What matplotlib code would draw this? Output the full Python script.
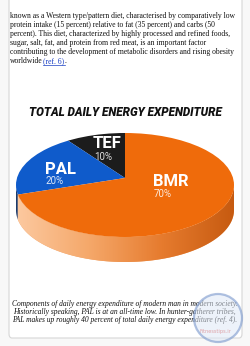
import numpy as np
import matplotlib
matplotlib.use('Agg')
import matplotlib.pyplot as plt
from matplotlib.patches import FancyBboxPatch, Polygon, Ellipse
from matplotlib.colors import LinearSegmentedColormap

# pie data: total daily energy expenditure
labels = ['TEF', 'PAL', 'BMR']
shares = [10, 20, 70]
pct_labels = ['10%', '20%', '70%']

top_colors = ['#1c1c1c', '#0f5bcb', '#ef6b0b']
side_colors = ['#111111', '#1b3a6b', '#f2a467']

paragraph = [
    'known as a Western type/pattern diet, characterised by comparatively low',
    'protein intake (15 percent) relative to fat (35 percent) and carbs (50',
    'percent). This diet, characterized by highly processed and refined foods,',
    'sugar, salt, fat, and protein from red meat, is an important factor',
    'contributing to the development of metabolic disorders and rising obesity',
    'worldwide',
]
caption = [
    'Components of daily energy expenditure of modern man in modern society.',
    'Historically speaking, PAL is at an all-time low. In hunter-gatherer tribes,',
    'PAL makes up roughly 40 percent of total daily energy expenditure (ref. 4).',
]

W, H = 250, 346
fig = plt.figure(figsize=(2.5, 3.46), dpi=100)
fig.patch.set_facecolor('#f8f8f8')


def fx(px):
    return px / W


def fy(py):
    return 1 - py / H


# white card behind everything
card = FancyBboxPatch((fx(9), fy(338)), fx(242) - fx(9), fy(-6) - fy(338),
                      boxstyle='round,pad=0,rounding_size=0.012',
                      transform=fig.transFigure, facecolor='white',
                      edgecolor='#d6d6d6', lw=0.8, zorder=-5)
fig.patches.append(card)

# paragraph at the top
serif = 'Liberation Serif'
fs = 5.5
for i, line in enumerate(paragraph):
    t = fig.text(fx(10), fy(15.5 + i * 9.05), line, family=serif, size=fs,
                 va='center', ha='left', color='#111111')
renderer = fig.canvas.get_renderer()
bb = t.get_window_extent(renderer)
x_link = bb.x1 / W + fx(0.8)
y_last = fy(15.5 + 5 * 9.05)
link = fig.text(x_link, y_last, '(ref. 6)', family=serif, size=fs,
                va='center', ha='left', color='#1a3fc4')
lb = link.get_window_extent(renderer)
fig.add_artist(plt.Line2D([lb.x0 / W, lb.x1 / W], [y_last - 4 / H, y_last - 4 / H],
                          transform=fig.transFigure, color='#1a3fc4', lw=0.5))
fig.text(lb.x1 / W, y_last, '.', family=serif, size=fs, va='center',
         ha='left', color='#111111')

# title
fig.text(fx(125), fy(112), 'TOTAL DAILY ENERGY EXPENDITURE', family='Roboto',
         weight='heavy', style='italic', size=8.4, ha='center', va='center',
         color='#111111')

# 3d-looking pie
depth = 25 / 52
apex_shift = 7 / 52
ax = fig.add_axes([fx(16), fy(263), fx(234) - fx(16), fy(133) - fy(263)])


def rim_angle(phi):
    # where a ray from the raised apex meets the rim, as an angle on the rim
    p = np.radians(phi)
    s = apex_shift
    t = -s * np.sin(p) + np.sqrt(s ** 2 * np.sin(p) ** 2 - s ** 2 + 1)
    ang = np.degrees(np.arctan2(s + t * np.sin(p), t * np.cos(p)))
    return ang % 360


bounds = np.cumsum([0] + shares) / sum(shares) * 360 + 90
rim = [rim_angle(b) for b in bounds]
for i in range(1, len(rim)):
    while rim[i] < rim[i - 1]:
        rim[i] += 360
grad_cmap = LinearSegmentedColormap.from_list(
    'side', ['#fcc9a0', '#f5a86a', '#e67b2e', '#c65a10'])
for i in range(len(shares)):
    lo = max(rim[i], 180)
    hi = min(rim[i + 1], 360)
    if hi <= lo:
        continue
    th = np.radians(np.linspace(lo, hi, 120))
    xs = np.concatenate([np.cos(th), np.cos(th[::-1])])
    ys = np.concatenate([np.sin(th), np.sin(th[::-1]) - depth])
    side = Polygon(np.column_stack([xs, ys]), closed=True,
                   facecolor=side_colors[i], lw=0)
    ax.add_patch(side)
    if labels[i] == 'BMR':
        grad = np.linspace(0, 1, 256).reshape(1, -1)
        im = ax.imshow(grad, cmap=grad_cmap, extent=(-1, 1, -1.6, 0),
                       aspect='auto', zorder=1)
        im.set_clip_path(side)

# top face: wedges from a slightly raised apex, clipped to the ellipse
face = Ellipse((0, 0), 2, 2, facecolor='none', lw=0)
ax.add_patch(face)
wedges, _ = ax.pie(shares, colors=top_colors, startangle=90, counterclock=True,
                   radius=1.3, center=(0, apex_shift),
                   wedgeprops=dict(lw=0, zorder=2))
for w in wedges:
    w.set_clip_on(True)
    w.set_clip_path(face)
ax.set_aspect('auto')
ax.set_xlim(-1, 1)
ax.set_ylim(-1.5, 1.0)
ax.axis('off')

# slice labels
label_pos = [(93, 144, 157), (45, 169, 181), (153, 182, 194)]
for lab, pct, (x, y1, y2) in zip(labels, pct_labels, label_pos):
    fig.text(fx(x), fy(y1), lab, family='Roboto', weight='bold', size=12,
             color='white', ha='left', va='center')
    fig.text(fx(x + 1), fy(y2), pct, family='Roboto', size=7,
             color='white', alpha=0.85, ha='left', va='center')

# caption under the chart
for i, line in enumerate(caption):
    fig.text(fx(124.5), fy(304 + i * 8.2), line, family=serif, style='italic',
             size=5.45, ha='center', va='center', color='#111111')

# faint watermark
fig.patches.append(Ellipse((fx(218), fy(318)), 48 / W, 48 / H,
                           transform=fig.transFigure, facecolor='#dfe8f6',
                           edgecolor='#6f8fc8', lw=1.6, alpha=0.55, zorder=5))
fig.text(fx(215), fy(331), 'Fitnesstips.ir', family='DejaVu Sans', size=3.6,
         color='#d9302a', ha='center', va='center', alpha=0.85)

fig.savefig('out.png', dpi=100, facecolor=fig.get_facecolor())
